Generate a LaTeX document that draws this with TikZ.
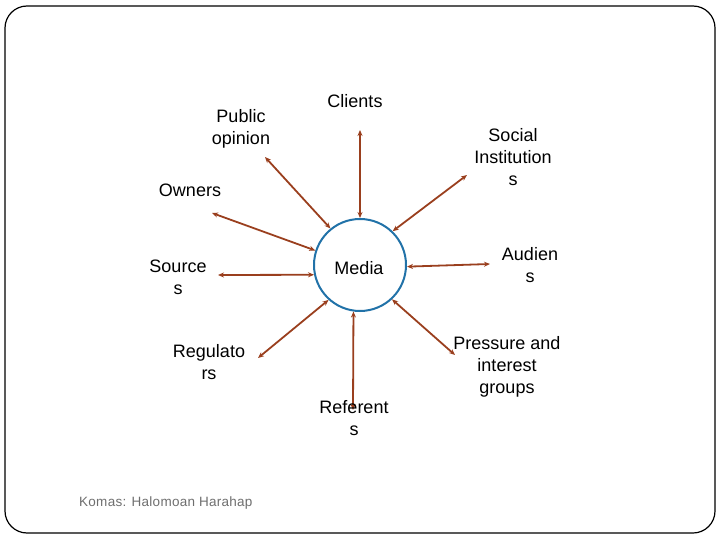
\documentclass[tikz,border=0pt]{standalone}
\usepackage{fontspec}
\setmainfont{Liberation Sans}
\usetikzlibrary{arrows.meta}
\definecolor{linkbrown}{HTML}{9A3F1E}
\definecolor{ringblue}{HTML}{2172A8}
\definecolor{footgray}{HTML}{6E6E6E}
\begin{document}
\begin{tikzpicture}[x=1pt,y=-1pt,
  lbl/.style={align=center,font=\fontsize{18}{22}\selectfont,inner sep=0pt},
  link/.style={draw=linkbrown,line width=1.8pt,{Stealth[length=6pt,width=5pt]}-{Stealth[length=6pt,width=5pt]}},
  ring/.style={circle,draw=ringblue,line width=2pt,minimum size=92pt,inner sep=0pt}]
\useasboundingbox (0,0) rectangle (720,540);
\draw[line width=1.2pt,rounded corners=22pt] (5,6) rectangle (715,533);
\node[ring] (media) at (360,265) {};
\node[lbl] (mediatxt) at (359,268) {Media};
\node[lbl] (clients) at (355,101) {Clients};
\node[lbl] (public) at (241,129) {Public\\opinion};
\node[lbl] (social) at (513,157) {Social\\Institution\\s};
\node[lbl] (owners) at (190,190) {Owners};
\node[lbl] (sources) at (178,277) {Source\\s};
\node[lbl] (audiens) at (530,265) {Audien\\s};
\node[lbl] (regul) at (209,362) {Regulato\\rs};
\node[lbl] (pressure) at (507,367) {Pressure and\\interest\\groups};
\coordinate (cE) at (360,130);
\coordinate (pE) at (265,157);
\coordinate (sE) at (467,175);
\coordinate (oE) at (212,213);
\coordinate (srE) at (218,275);
\coordinate (aE) at (490,264);
\coordinate (rE) at (258,358);
\coordinate (refE) at (353,410);
\coordinate (prE) at (455,355);
\draw[link] (cE) -- (media.90);
\draw[link] (pE) -- (media.129.7);
\draw[link] (sE) -- (media.46.7);
\draw[link] (oE) -- (media.162.7);
\draw[link] (srE) -- (media.192.5);
\draw[link] (aE) -- (media.-2);
\draw[link] (rE) -- (media.228);
\draw[link] (refE) -- (media.262);
\draw[link] (prE) -- (media.313);
\node[lbl] (referents) at (354,418) {Referent\\s};
\node[font=\fontsize{13.5}{16}\selectfont\addfontfeatures{LetterSpace=2},text=footgray,anchor=west,inner sep=0pt] (foot) at (79,503) {Komas: Halomoan Harahap};
\end{tikzpicture}
\end{document}
